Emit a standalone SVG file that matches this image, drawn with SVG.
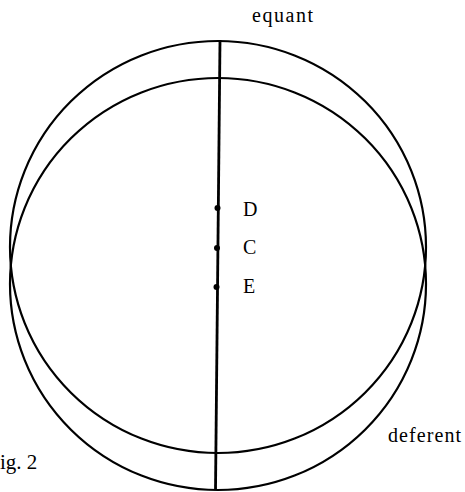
<svg xmlns="http://www.w3.org/2000/svg" width="465" height="492" viewBox="0 0 465 492">
<style>
.c{fill:none;stroke:#000;stroke-width:2.2}
.ax{stroke:#000;stroke-width:2.8;fill:none}
.dot{fill:#000}
.t{font-family:"Liberation Serif","Times New Roman",serif;fill:#000}
</style>
<rect width="465" height="492" fill="#fff"/>
<g id="equant-circle"><ellipse class="c" cx="218" cy="247" rx="208" ry="206"/></g>
<g id="deferent-circle"><ellipse class="c" cx="218" cy="284" rx="208" ry="206"/></g>
<g id="connectors"><line class="ax" x1="220" y1="40" x2="215.5" y2="490"/></g>
<g id="D"><circle class="dot" cx="217.5" cy="208" r="3"/><text class="t" x="243" y="216" font-size="20">D</text></g>
<g id="C"><circle class="dot" cx="217" cy="248" r="3"/><text class="t" x="243" y="254" font-size="20">C</text></g>
<g id="E"><circle class="dot" cx="216.5" cy="287" r="3"/><text class="t" x="243" y="293" font-size="20">E</text></g>
<g id="labels">
<text class="t" x="252" y="22" font-size="20" textLength="61" lengthAdjust="spacing">equant</text>
<text class="t" x="388" y="442" font-size="20" textLength="73" lengthAdjust="spacing">deferent</text>
<text class="t" x="0" y="469" font-size="21">ig. 2</text>
</g>
</svg>
